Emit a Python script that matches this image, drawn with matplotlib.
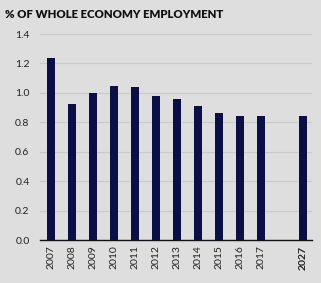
import matplotlib.pyplot as plt
import numpy as np

years = ['2007', '2008', '2009', '2010', '2011', '2012', '2013', '2014',
         '2015', '2016', '2017', '2027']
positions = [0, 1, 2, 3, 4, 5, 6, 7, 8, 9, 10, 12]
share = [1.24, 0.925, 1.0, 1.05, 1.04, 0.98, 0.96, 0.91, 0.86, 0.845, 0.843, 0.843]

bg = '#dedede'
navy = '#0a0f45'

plt.rcParams['font.family'] = ['Lato', 'DejaVu Sans']

fig = plt.figure(figsize=(3.21, 2.83), dpi=100, facecolor=bg)
ax = fig.add_axes([40 / 321, (283 - 240) / 283, 272 / 321, 206 / 283])
ax.set_facecolor(bg)

ax.bar(positions, share, width=0.4, color=navy, zorder=3)

ax.set_ylim(0, 1.4)
ticks = np.arange(0, 1.41, 0.2)
ax.set_yticks(ticks)
ax.set_yticklabels([f'{v:.1f}' for v in ticks])
ax.set_xlim(-0.52, 12.43)
ax.set_xticks(positions)
ax.set_xticklabels(years, rotation=90)
ax.get_xticklabels()[-1].set_fontweight('bold')

ax.grid(axis='y', color='#cacaca', linewidth=0.8, zorder=0)
for s in ['top', 'right', 'left']:
    ax.spines[s].set_visible(False)
ax.spines['bottom'].set_color('#111111')
ax.spines['bottom'].set_linewidth(1.0)
ax.tick_params(axis='both', length=0, labelsize=7.5, colors='#222222')
ax.tick_params(axis='y', pad=7.5)
ax.tick_params(axis='x', pad=4)

fig.text(5 / 321, 1 - 14 / 283, '% OF WHOLE ECONOMY EMPLOYMENT', fontsize=8.2,
         fontweight='heavy', color='#111111', va='center', ha='left')

fig.savefig('out.png', dpi=100, facecolor=bg)
